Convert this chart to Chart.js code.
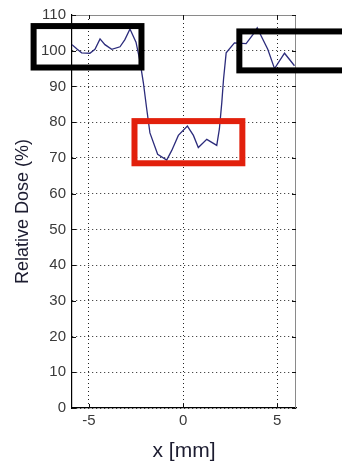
<!DOCTYPE html>
<html>
<head>
<meta charset="utf-8">
<script src="https://cdn.jsdelivr.net/npm/chart.js@4.4.1/dist/chart.umd.min.js"></script>
<style>
  html, body { margin: 0; padding: 0; background: #fff; }
  #wrap { width: 342px; height: 468px; position: relative; }
</style>
</head>
<body>
<div id="wrap"><canvas id="doseChart"></canvas></div>
<script>
// dose profile
const xPositions = [-5.9, -5.62, -5.39, -4.95, -4.68, -4.41, -4.15, -3.79, -3.35, -3.09, -2.82, -2.5, -2.29, -2.11, -1.93, -1.76,
  -1.35, -0.87, -0.6, -0.25, 0.23, 0.55, 0.81, 1.26, 1.79, 1.93, 2.06, 2.15, 2.29, 2.73, 3.35, 3.71, 3.94, 4.15, 4.5, 4.86, 5.39, 5.92];
const doseValues = [101.7, 100.4, 99.4, 99.3, 100.4, 103.3, 101.7, 100.4, 101.1, 103.1, 106.1, 102.4, 97.1, 91.1, 83.7, 77.0,
  71.0, 69.4, 72.1, 76.3, 78.9, 76.3, 72.9, 75.2, 73.5, 78.1, 85.6, 92.0, 99.4, 102.2, 102.0, 104.5, 106.4, 104.1, 100.4, 95.0, 99.3, 95.8];

const xTicks = [-5, 0, 5];
const yTicks = [0, 10, 20, 30, 40, 50, 60, 70, 80, 90, 100, 110];

// highlight boxes (data units)
const boxLeft   = [-7.94, 2.99, -2.58];
const boxRight  = [-2.21, 12, 3.15];
const boxTop    = [106.9, 105.4, 80.3];
const boxBottom = [95.3, 94.5, 68.5];
const boxColors = ['#000000', '#000000', '#e2200c'];

const points = xPositions.map((x, i) => ({ x: x, y: doseValues[i] }));

// matlab style frame + the annotation rectangles
const framePlugin = {
  id: 'frame',
  afterDatasetsDraw(chart) {
    const { ctx, chartArea: a, scales } = chart;
    ctx.save();
    ctx.strokeStyle = '#8a8a8a';
    ctx.lineWidth = 1;
    ctx.beginPath();
    ctx.moveTo(a.left, a.top + 0.5);
    ctx.lineTo(a.right - 0.5, a.top + 0.5);
    ctx.lineTo(a.right - 0.5, a.bottom);
    ctx.stroke();
    // inward tick marks
    ctx.strokeStyle = '#111';
    ctx.beginPath();
    yTicks.forEach(v => {
      const py = Math.round(scales.y.getPixelForValue(v)) + 0.5;
      ctx.moveTo(a.right, py); ctx.lineTo(a.right - 4, py);
      ctx.moveTo(a.left, py); ctx.lineTo(a.left + 4, py);
    });
    xTicks.forEach(v => {
      const px = Math.round(scales.x.getPixelForValue(v)) + 0.5;
      ctx.moveTo(px, a.bottom); ctx.lineTo(px, a.bottom - 4);
      ctx.moveTo(px, a.top); ctx.lineTo(px, a.top + 4);
    });
    ctx.stroke();
    ctx.restore();
  },
  afterDraw(chart) {
    const { ctx, scales } = chart;
    ctx.save();
    ctx.lineWidth = 6;
    boxLeft.forEach((l, i) => {
      const x1 = scales.x.getPixelForValue(l);
      const x2 = scales.x.getPixelForValue(boxRight[i]);
      const y1 = scales.y.getPixelForValue(boxTop[i]);
      const y2 = scales.y.getPixelForValue(boxBottom[i]);
      ctx.strokeStyle = boxColors[i];
      ctx.strokeRect(x1, y1, x2 - x1, y2 - y1);
    });
    ctx.restore();
  }
};

const tickFont = { family: "'Liberation Sans', Arial, sans-serif", size: 15 };

new Chart(document.getElementById('doseChart'), {
  type: 'line',
  data: {
    datasets: [{
      data: points,
      borderColor: '#2c2c7c',
      borderWidth: 1.3,
      pointRadius: 0,
      tension: 0,
      fill: false
    }]
  },
  options: {
    responsive: true,
    maintainAspectRatio: false,
    animation: false,
    events: [],
    layout: { padding: { top: 13, right: 46, left: 0, bottom: 0 } },
    plugins: { legend: { display: false }, tooltip: { enabled: false } },
    scales: {
      x: {
        type: 'linear',
        min: -5.9,
        max: 6,
        afterBuildTicks: s => { s.ticks = xTicks.map(v => ({ value: v })); },
        afterFit: s => { s.height = 60; },
        grid: { color: '#222', lineWidth: 1, drawTicks: false },
        border: { display: true, color: '#000', width: 1.2, dash: [1, 3] },
        ticks: { color: '#3a3a3a', font: tickFont, padding: 4, maxRotation: 0, autoSkip: false },
        title: {
          display: true,
          text: 'x [mm]',
          color: '#1c1c30',
          font: { family: "'Liberation Sans', Arial, sans-serif", size: 21 },
          padding: { top: 0, bottom: 4 }
        }
      },
      y: {
        min: 0,
        max: 110,
        afterBuildTicks: s => { s.ticks = yTicks.map(v => ({ value: v })); },
        afterFit: s => { s.width = 72; },
        grid: { color: '#222', lineWidth: 1, drawTicks: false },
        border: { display: true, color: '#000', width: 1.2, dash: [1, 3] },
        ticks: { color: '#3a3a3a', font: tickFont, padding: 6 },
        title: {
          display: true,
          text: 'Relative Dose (%)',
          color: '#1c1c30',
          font: { family: "'Liberation Sans', Arial, sans-serif", size: 18 },
          padding: { top: 12, bottom: 0 }
        }
      }
    }
  },
  plugins: [framePlugin]
});
</script>
</body>
</html>
